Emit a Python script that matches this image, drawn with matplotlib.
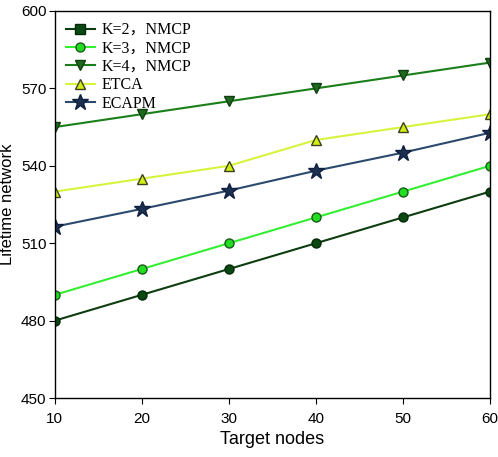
import matplotlib
matplotlib.use("Agg")
import matplotlib.pyplot as plt
from matplotlib.lines import Line2D

x = [10, 20, 30, 40, 50, 60]
k2 = [480, 490, 500, 510, 520, 530]
k3 = [490, 500, 510, 520, 530, 540]
k4 = [555, 560, 565, 570, 575, 580]
etca = [530, 535, 540, 550, 555, 560]
ecapm = [516.4, 523.3, 530.4, 538.1, 545.1, 552.8]
labels = ["K=2，NMCP", "K=3，NMCP", "K=4，NMCP", "ETCA", "ECAPM"]

plt.rcParams['font.family'] = ['Liberation Sans', 'DejaVu Sans']
fig = plt.figure(figsize=(4.98, 4.57), dpi=100)
ax = fig.add_axes([0.110, 0.129, 0.874, 0.847])

ax.plot(x, k2, color='#0d3d10', lw=1.5, marker='o', ms=6.5, mfc='#0a4a12', mec='#062a08')
ax.plot(x, k3, color='#33ee33', lw=1.5, marker='o', ms=6.5, mfc='#22dd22', mec='#1a5a1a')
ax.plot(x, k4, color='#1a7f1a', lw=1.5, marker='v', ms=7.5, mfc='#1f6a1f', mec='#0f3f0f')
ax.plot(x, etca, color='#d4f53c', lw=1.5, marker='^', ms=7.5, mfc='#d0ee10', mec='#404020')
ax.plot(x, ecapm, color='#2c4a6e', lw=1.5, marker='*', ms=12, mfc='#1c3050', mec='#0f2040')

handles = [
    Line2D([], [], color='#0d3d10', lw=1.5, marker='s', ms=6.5, mfc='#0a4a12', mec='#062a08'),
    Line2D([], [], color='#33ee33', lw=1.5, marker='o', ms=6.5, mfc='#22dd22', mec='#1a5a1a'),
    Line2D([], [], color='#1a7f1a', lw=1.5, marker='v', ms=7.5, mfc='#1f6a1f', mec='#0f3f0f'),
    Line2D([], [], color='#d4f53c', lw=1.5, marker='^', ms=7.5, mfc='#d0ee10', mec='#404020'),
    Line2D([], [], color='#2c4a6e', lw=1.5, marker='*', ms=12, mfc='#1c3050', mec='#0f2040'),
]
leg = ax.legend(handles, labels, loc='upper left', frameon=False, handlelength=1.8,
                handletextpad=0.4, labelspacing=0.15, borderaxespad=0.3,
                bbox_to_anchor=(0.0, 1.0),
                prop={'family': ['Liberation Serif', 'Noto Sans CJK SC'], 'size': 11.5})

ax.set_xlim(10, 60)
ax.set_ylim(450, 600)
ax.set_xticks(x)
ax.set_yticks([450, 480, 510, 540, 570, 600])
ax.tick_params(direction='out', length=4, labelsize=11, pad=6)
ax.tick_params(axis='y', pad=2)
for s in ax.spines.values():
    s.set_linewidth(1.0)
ax.set_xlabel('Target nodes', fontsize=13)
ax.set_ylabel('Lifetime network', fontsize=12, labelpad=4)
fig.savefig('out.png', dpi=100)
